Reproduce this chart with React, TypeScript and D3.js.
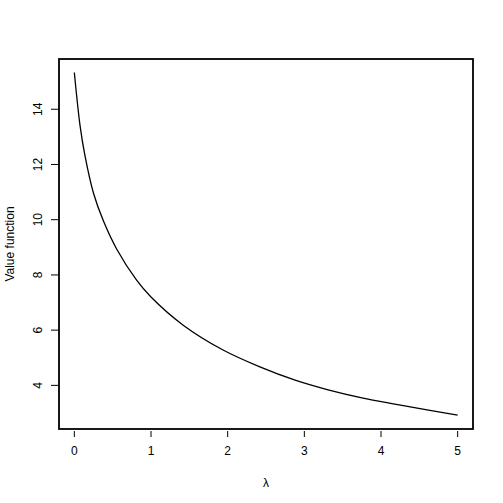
import React from 'react'
import { scaleLinear, line, curveCatmullRom } from 'd3'

const lambdas = [0, 0.075, 0.14, 0.25, 0.38, 0.55, 0.81, 1.0, 1.42, 1.94, 2.42, 2.88, 3.31, 3.75, 4.18, 4.62, 5.0]
const values = [15.33, 13.4, 12.3, 10.96, 9.95, 8.95, 7.82, 7.2, 6.18, 5.28, 4.67, 4.19, 3.84, 3.55, 3.32, 3.1, 2.92]
const xTicks = [0, 1, 2, 3, 4, 5]
const yTicks = [4, 6, 8, 10, 12, 14]

const W = 503
const H = 503
const margin = { top: 59, right: 30, bottom: 74, left: 59 }

export default function App() {
  const x = scaleLinear().domain([-0.2, 5.2]).range([margin.left, W - margin.right])
  const y = scaleLinear().domain([2.42, 15.82]).range([H - margin.bottom, margin.top])

  const pts = lambdas.map((l, i) => ({ l, v: values[i] }))
  const path = line<{ l: number; v: number }>()
    .x(d => x(d.l))
    .y(d => y(d.v))
    .curve(curveCatmullRom.alpha(0.5))(pts)

  const font = 'Liberation Sans, Arial, Helvetica, sans-serif'
  const bottom = H - margin.bottom
  return (
    <svg width={W} height={H} style={{ position: 'absolute', left: 0, top: 0, background: '#fff' }}>
      <rect x={margin.left} y={margin.top} width={W - margin.left - margin.right}
        height={bottom - margin.top} fill="none" stroke="#000" strokeWidth={1.8} />
      <path d={path || ''} fill="none" stroke="#000" strokeWidth={1.3} />
      <g fontFamily={font} fontSize={12} fill="#000">
        {xTicks.map(t => (
          <g key={'x' + t}>
            <line x1={x(t)} x2={x(t)} y1={bottom + 2} y2={bottom + 8} stroke="#000" strokeWidth={1} />
            <text x={x(t)} y={bottom + 26} textAnchor="middle">{t}</text>
          </g>
        ))}
        {yTicks.map(t => (
          <g key={'y' + t}>
            <line x1={margin.left - 8} x2={margin.left} y1={y(t)} y2={y(t)} stroke="#000" strokeWidth={1} />
            <text transform={`translate(${margin.left - 17},${y(t)}) rotate(-90)`} textAnchor="middle">{t}</text>
          </g>
        ))}
        <text x={(margin.left + W - margin.right) / 2} y={487} textAnchor="middle">λ</text>
        <text transform={`translate(14,${(margin.top + bottom) / 2}) rotate(-90)`} textAnchor="middle">Value function</text>
      </g>
    </svg>
  )
}
